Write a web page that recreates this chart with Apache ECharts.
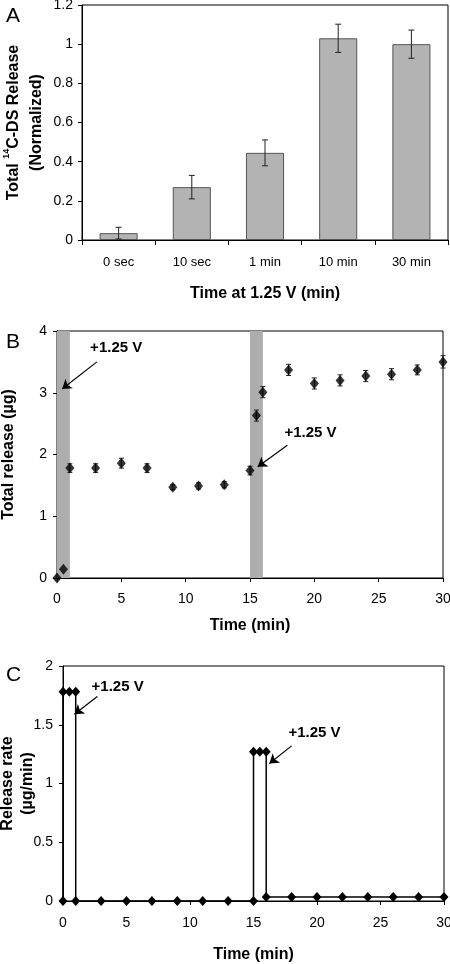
<!DOCTYPE html>
<html><head><meta charset="utf-8">
<script src="https://cdn.jsdelivr.net/npm/echarts@6/dist/echarts.min.js"></script>
<style>html,body{margin:0;padding:0;background:#fff}#c{width:450px;height:964px}</style>
</head><body><div id="c"></div>
<script>
// Panel A
const catLabels = ['0 sec', '10 sec', '1 min', '10 min', '30 min'];
const relNorm = [0.035, 0.27, 0.445, 1.03, 1.0];
const relNormErr = [0.03, 0.06, 0.066, 0.072, 0.072];
const aTicks = [0, 0.2, 0.4, 0.6, 0.8, 1, 1.2];
// Panel B
const bTime = [0, 0.5, 1, 3, 5, 7, 9, 11, 13, 15, 15.5, 16, 18, 20, 22, 24, 26, 28, 30];
const bTotal = [0, 0.14, 1.78, 1.78, 1.86, 1.78, 1.47, 1.49, 1.51, 1.74, 2.63, 3.01, 3.37, 3.15, 3.2, 3.27, 3.3, 3.37, 3.5];
const bErr = [0, 0, 0.07, 0.07, 0.08, 0.07, 0.04, 0.05, 0.05, 0.07, 0.09, 0.09, 0.09, 0.09, 0.09, 0.09, 0.09, 0.08, 0.1];
const voltageOn = [[0, 1], [15, 16]];
// Panel C
const cTime = [0, 0, 0.5, 1, 1, 3, 5, 7, 9, 11, 13, 15, 15, 15.5, 16, 16, 18, 20, 22, 24, 26, 28, 30];
const cRate = [0, 1.78, 1.78, 1.78, 0, 0, 0, 0, 0, 0, 0, 0, 1.27, 1.27, 1.27, 0.035, 0.035, 0.035, 0.035, 0.035, 0.035, 0.035, 0.035];
const annText = '+1.25 V';
const bArrows = [[[3.1, 3.5], [0.4, 3.06]], [[17.9, 2.15], [15.6, 1.8]]];
const bLabels = [[4.6, 3.72], [19.7, 2.35]];
const cArrows = [[[2.7, 1.74], [0.9, 1.59]], [[18.0, 1.32], [16.25, 1.17]]];
const cLabels = [[4.3, 1.82], [19.8, 1.43]];

const FONT = '"Liberation Sans", Arial, sans-serif';
const chart = echarts.init(document.getElementById('c'), null, {renderer: 'canvas'});

function errRender(capHalf, color) {
  return function (params, api) {
    const x = api.value(0), y = api.value(1), e = api.value(2);
    if (!e) return null;
    const t = api.coord([x, y + e]), b = api.coord([x, y - e]);
    const st = {stroke: color, lineWidth: 1};
    return {type: 'group', children: [
      {type: 'line', shape: {x1: t[0], y1: t[1], x2: b[0], y2: b[1]}, style: st},
      {type: 'line', shape: {x1: t[0] - capHalf, y1: t[1], x2: t[0] + capHalf, y2: t[1]}, style: st},
      {type: 'line', shape: {x1: b[0] - capHalf, y1: b[1], x2: b[0] + capHalf, y2: b[1]}, style: st}
    ]};
  };
}

const axisCommon = {
  axisLine: {show: true, lineStyle: {color: '#000', width: 1}},
  axisTick: {show: true, inside: false, length: 4, lineStyle: {color: '#000'}},
  splitLine: {show: false},
  axisLabel: {color: '#000', fontFamily: FONT, fontSize: 13},
  nameTextStyle: {color: '#000', fontFamily: FONT, fontWeight: 'bold', fontSize: 16},
  nameLocation: 'middle',
  nameMoveOverlap: false
};

function annoSeries(xi, yi, arrows, labels) {
  return {
    type: 'scatter', xAxisIndex: xi, yAxisIndex: yi, data: [], silent: true,
    markLine: {
      silent: true, symbol: ['none', 'arrow'], symbolSize: 9,
      lineStyle: {color: '#000', width: 1.2, type: 'solid'}, label: {show: false},
      data: arrows.map(a => [{coord: a[0]}, {coord: a[1]}])
    },
    markPoint: {
      silent: true, symbol: 'circle', symbolSize: 1, itemStyle: {color: 'rgba(0,0,0,0)'},
      label: {show: true, position: 'inside', formatter: annText, color: '#000', fontFamily: FONT, fontWeight: 'bold', fontSize: 15},
      data: labels.map(l => ({coord: l}))
    }
  };
}

const gridCommon = {show: true, borderColor: '#000', borderWidth: 1, backgroundColor: '#fff', containLabel: false, outerBoundsMode: 'none'};

const option = {
  animation: false,
  backgroundColor: '#fff',
  title: [
    {text: 'A', left: 1, top: 1, textStyle: {fontFamily: FONT, fontWeight: 'normal', fontSize: 21, color: '#000'}},
    {text: 'B', left: 1, top: 327, textStyle: {fontFamily: FONT, fontWeight: 'normal', fontSize: 21, color: '#000'}},
    {text: 'C', left: 1, top: 660, textStyle: {fontFamily: FONT, fontWeight: 'normal', fontSize: 21, color: '#000'}}
  ],
  grid: [
    Object.assign({left: 82, top: 5, width: 366, height: 235}, gridCommon),
    Object.assign({left: 57, top: 331, width: 386, height: 247}, gridCommon),
    Object.assign({left: 63, top: 666, width: 381, height: 235}, gridCommon)
  ],
  xAxis: [
    Object.assign({}, axisCommon, {gridIndex: 0, type: 'category', data: catLabels,
      axisTick: {show: true, length: 5, lineStyle: {color: '#000'}},
      axisLabel: Object.assign({}, axisCommon.axisLabel, {margin: 16}),
      name: 'Time at 1.25 V (min)', nameGap: 46}),
    Object.assign({}, axisCommon, {gridIndex: 1, type: 'value', min: 0, max: 30, interval: 5,
      axisLabel: Object.assign({}, axisCommon.axisLabel, {fontSize: 14, margin: 14}),
      name: 'Time (min)', nameGap: 40}),
    Object.assign({}, axisCommon, {gridIndex: 2, type: 'value', min: 0, max: 30, interval: 5,
      axisLabel: Object.assign({}, axisCommon.axisLabel, {fontSize: 14, margin: 15}),
      name: 'Time (min)', nameGap: 46})
  ],
  yAxis: [
    Object.assign({}, axisCommon, {gridIndex: 0, type: 'value', min: aTicks[0], max: aTicks[aTicks.length - 1], interval: 0.2,
      axisLabel: Object.assign({}, axisCommon.axisLabel, {fontSize: 14, margin: 9}),
      name: '{a|Total }{s|14}{a|C-DS Release}\n{a|(Normalized)}', nameGap: 34,
      nameTextStyle: {color: '#000', fontFamily: FONT, fontWeight: 'bold', fontSize: 16, lineHeight: 23,
        rich: {a: {fontFamily: FONT, fontWeight: 'bold', fontSize: 16, color: '#000'},
               s: {fontFamily: FONT, fontWeight: 'bold', fontSize: 9, color: '#000', verticalAlign: 'top', lineHeight: 20}}}}),
    Object.assign({}, axisCommon, {gridIndex: 1, type: 'value', min: 0, max: 4, interval: 1,
      axisLabel: Object.assign({}, axisCommon.axisLabel, {fontSize: 14, margin: 10}),
      name: 'Total release (µg)', nameGap: 40}),
    Object.assign({}, axisCommon, {gridIndex: 2, type: 'value', min: 0, max: 2, interval: 0.5,
      axisLabel: Object.assign({}, axisCommon.axisLabel, {fontSize: 14, margin: 10}),
      name: 'Release rate\n(µg/min)', nameGap: 25,
      nameTextStyle: {color: '#000', fontFamily: FONT, fontWeight: 'bold', fontSize: 16, lineHeight: 20}})
  ],
  series: [
    {type: 'bar', xAxisIndex: 0, yAxisIndex: 0, data: relNorm, barWidth: '52%',
      itemStyle: {color: '#b3b3b3', borderColor: '#555', borderWidth: 1}},
    {type: 'custom', xAxisIndex: 0, yAxisIndex: 0, renderItem: errRender(3, '#222'), z: 5,
      data: relNorm.map((v, i) => [i, v, relNormErr[i]])},
    {type: 'scatter', xAxisIndex: 1, yAxisIndex: 1, data: [], silent: true,
      markArea: {silent: true, itemStyle: {color: '#adadad', opacity: 1},
        data: voltageOn.map(r => [{xAxis: r[0]}, {xAxis: r[1]}])}},
    {type: 'custom', xAxisIndex: 1, yAxisIndex: 1, renderItem: errRender(2.5, '#222'), z: 4, clip: false,
      data: bTime.map((t, i) => [t, bTotal[i], bErr[i]])},
    {type: 'scatter', xAxisIndex: 1, yAxisIndex: 1, symbol: 'diamond', symbolSize: [9, 11], clip: false, z: 6,
      itemStyle: {color: '#000'}, data: bTime.map((t, i) => [t, bTotal[i]])},
    annoSeries(1, 1, bArrows, bLabels),
    {type: 'line', xAxisIndex: 2, yAxisIndex: 2, symbol: 'diamond', symbolSize: [9, 10], showSymbol: true, clip: false,
      lineStyle: {color: '#000', width: 1.5}, itemStyle: {color: '#000'},
      data: cTime.map((t, i) => [t, cRate[i]])},
    annoSeries(2, 2, cArrows, cLabels)
  ]
};
chart.setOption(option);
</script></body></html>
